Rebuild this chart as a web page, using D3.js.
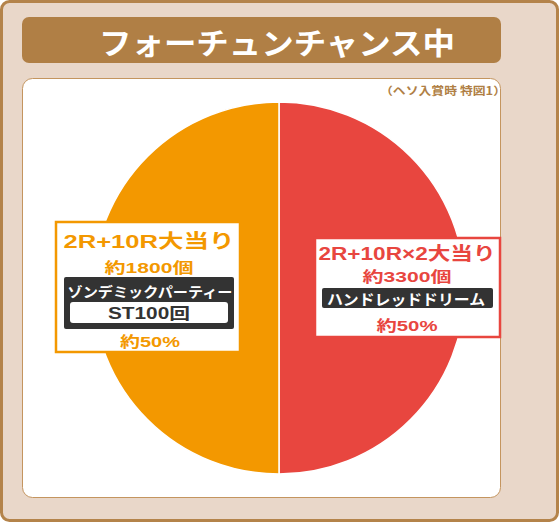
<!DOCTYPE html>
<html><head><meta charset="utf-8">
<script src="https://cdn.jsdelivr.net/npm/d3@7/dist/d3.min.js"></script>
<style>html,body{margin:0;padding:0;background:#fff}svg{display:block}</style>
</head><body><svg id="c" width="560" height="523"></svg>
<script>
const title = "フォーチュンチャンス中";
const note = "（ヘソ入賞時 特図1）";
const categories = ["ハンドレッドドリーム", "ゾンデミックパーティー"];
const values = [50, 50];
const hitLabels = ["2R+10R×2大当り", "2R+10R大当り"];
const payoutLabels = ["約3300個", "約1800個"];
const extraLabels = [null, "ST100回"];
const pctLabels = ["約50%", "約50%"];
const colors = ["#e8463f", "#f39800"];

const svg = d3.select("#c");
const F = "'Liberation Sans','Noto Sans CJK JP',sans-serif";
const FJ = "'Noto Sans CJK JP','Noto Sans',sans-serif";

svg.append("rect").attr("x",1.5).attr("y",1.5).attr("width",556).attr("height",519)
  .attr("rx",8).attr("fill","#e9d7c9").attr("stroke","#b4834a").attr("stroke-width",3);
svg.append("rect").attr("x",22).attr("y",17).attr("width",479).attr("height",46)
  .attr("rx",7).attr("fill","#b07f45");

function txt(x,y,s,size,fill,len,fam){
  const t = svg.append("text").attr("x",x).attr("y",y).attr("text-anchor","middle")
    .attr("dominant-baseline","central").attr("fill",fill).attr("font-family",fam||F)
    .attr("font-weight","bold").attr("font-size",size).text(s);
  if (len) t.attr("textLength",len).attr("lengthAdjust","spacingAndGlyphs");
  return t;
}

txt(277,41,title,30,"#fff",356,FJ);
svg.append("rect").attr("x",22.5).attr("y",78.5).attr("width",478).attr("height",419)
  .attr("rx",10).attr("fill","#fff").attr("stroke","#c4955f").attr("stroke-width",1);
txt(443,90,note,11,"#b07f45",126,FJ);

const cx = 279, cy = 288, R = 186;
const pie = d3.pie().sort(null).value(d => d)(values);
const arc = d3.arc().innerRadius(0).outerRadius(R);
const g = svg.append("g").attr("transform", `translate(${cx},${cy})`);
g.selectAll("path").data(pie).join("path")
  .attr("d", arc).attr("fill", (d,i) => colors[i])
  .attr("stroke","#fff").attr("stroke-width",1.5);

// left box (orange)
svg.append("rect").attr("x",56).attr("y",222).attr("width",184).attr("height",130)
  .attr("fill","#fff").attr("stroke",colors[1]).attr("stroke-width",2.5);
txt(149,241,hitLabels[1],19,colors[1],171);
txt(149,267,payoutLabels[1],15,colors[1],89);
svg.append("rect").attr("x",64).attr("y",277).attr("width",170).attr("height",52).attr("rx",2).attr("fill","#333");
txt(150,291,categories[1],14,"#fff",165,FJ);
svg.append("rect").attr("x",70).attr("y",302).attr("width",158).attr("height",21).attr("rx",3).attr("fill","#fff");
txt(149,313,extraLabels[1],16,"#333",82);
txt(150,341,pctLabels[1],15,colors[1],60);

// right box (red)
svg.append("rect").attr("x",315).attr("y",238).attr("width",185).attr("height",99)
  .attr("fill","#fff").attr("stroke",colors[0]).attr("stroke-width",2.5);
txt(407,254,hitLabels[0],18,colors[0],177);
txt(407,276,payoutLabels[0],15,colors[0],89);
svg.append("rect").attr("x",322).attr("y",288).attr("width",171).attr("height",20).attr("rx",2).attr("fill","#333");
txt(406,298,categories[0],15,"#fff",158,FJ);
txt(407,325,pctLabels[0],15,colors[0],61);
</script></body></html>
